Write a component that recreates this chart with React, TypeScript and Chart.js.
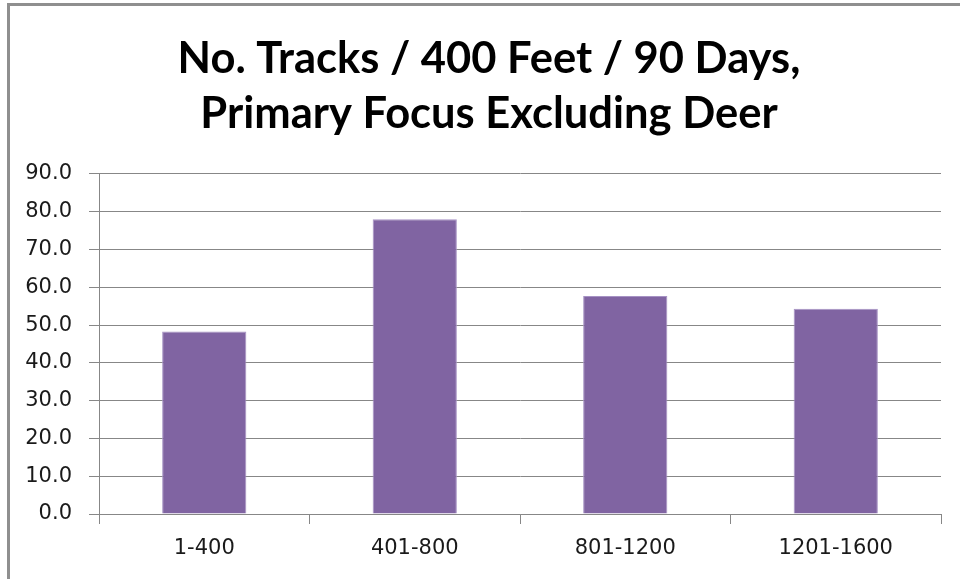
import React, { useEffect, useRef } from "react";
import { Chart, registerables } from "chart.js";

Chart.register(...registerables);

const titleLines = ["No. Tracks / 400 Feet / 90 Days,", "Primary Focus Excluding Deer"];
const categories = ["1-400", "401-800", "801-1200", "1201-1600"];
const trackValues = [48.3, 78.0, 57.7, 54.3];
const yMin = 0;
const yMax = 90;
const yStep = 10;

const GRID = "#878787";
const TICK_FONT = { family: "'DejaVu Sans', sans-serif", size: 21 };

export default function App() {
  const canvasRef = useRef<HTMLCanvasElement | null>(null);

  useEffect(() => {
    if (!canvasRef.current) return;
    const chart = new Chart(canvasRef.current, {
      type: "bar",
      data: {
        labels: categories,
        datasets: [
          {
            data: trackValues,
            backgroundColor: "#8064A2",
            borderColor: "#a692c4",
            borderWidth: 1,
            categoryPercentage: 0.8,
            barPercentage: 0.5,
          },
        ],
      },
      options: {
        animation: false,
        responsive: false,
        devicePixelRatio: 1,
        layout: { padding: { left: 20, right: 2, top: 0, bottom: 0 } },
        plugins: {
          legend: { display: false },
          tooltip: { enabled: false },
          title: {
            display: true,
            text: titleLines,
            color: "#000",
            font: {
              family: "'Lato', sans-serif",
              size: 43.5,
              weight: "bold",
              lineHeight: 1.27,
            },
            padding: { top: 31, bottom: 32.5 },
          },
        },
        scales: {
          x: {
            type: "category",
            offset: true,
            grid: {
              display: true,
              offset: true,
              drawOnChartArea: false,
              drawTicks: true,
              tickLength: 10,
              color: GRID,
              lineWidth: 1,
            },
            border: { display: true, color: GRID, width: 1 },
            ticks: { color: "#1a1a1a", font: TICK_FONT, padding: 12, maxRotation: 0 },
            afterFit: (scale: any) => {
              scale.height = 65;
            },
          },
          y: {
            min: yMin,
            max: yMax,
            grid: {
              color: GRID,
              lineWidth: 1,
              drawTicks: true,
              tickLength: 10,
            },
            border: { display: true, color: GRID, width: 1 },
            ticks: {
              stepSize: yStep,
              color: "#1a1a1a",
              font: TICK_FONT,
              padding: 17,
              callback: (v: any) => Number(v).toFixed(1),
            },
            afterFit: (scale: any) => {
              scale.width = 79;
            },
          },
          spacer: {
            type: "linear",
            position: "right",
            display: true,
            grid: { display: false, drawTicks: false },
            border: { display: false },
            ticks: { display: false },
            afterFit: (scale: any) => {
              scale.width = 17;
            },
          },
        },
      },
    });
    return () => chart.destroy();
  }, []);

  return (
    <div
      style={{
        position: "fixed",
        left: 0,
        top: 0,
        width: 960,
        height: 579,
        background: "#fff",
        overflow: "hidden",
      }}
    >
      <div
        style={{
          position: "absolute",
          left: 7,
          top: 3,
          width: 1000,
          height: 1000,
          borderLeft: "3px solid #8f8f8f",
          borderTop: "3px solid #8f8f8f",
          boxSizing: "border-box",
        }}
      />
      <canvas
        ref={canvasRef}
        width={960}
        height={579}
        style={{ position: "absolute", left: 0, top: 0, width: 960, height: 579 }}
      />
    </div>
  );
}
